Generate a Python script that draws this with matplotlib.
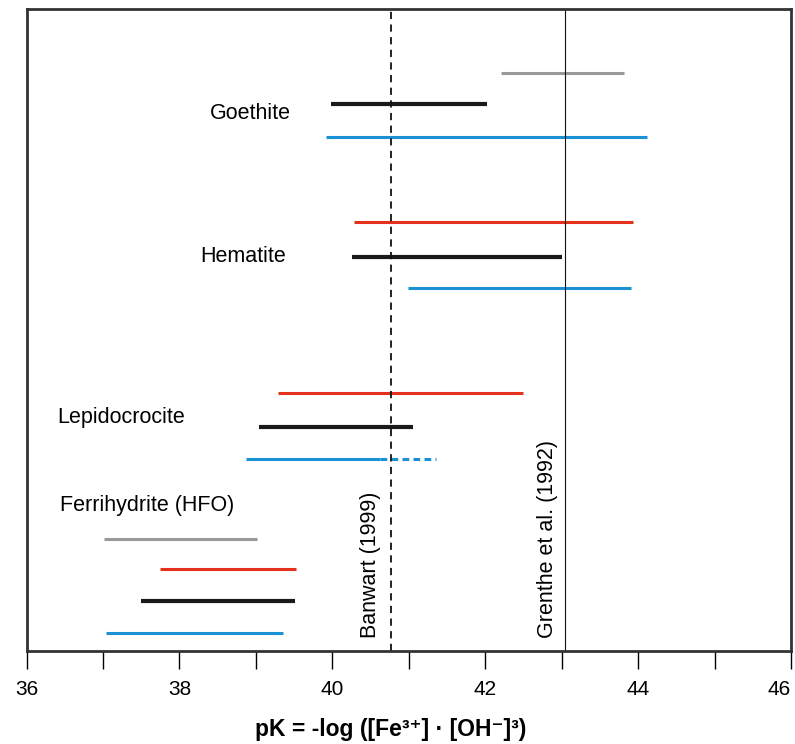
import matplotlib
matplotlib.use("Agg")
import matplotlib.pyplot as plt

plt.rcParams['font.family'] = ['Liberation Sans', 'DejaVu Sans']

# --- data: pK ranges for each mineral (start, end) ---
minerals = ['Goethite', 'Hematite', 'Lepidocrocite', 'Ferrihydrite (HFO)']
label_pos = [(38.40, 16.73), (38.27, 12.30), (36.40, 7.26), (36.44, 4.52)]

range_start = [42.21, 39.98, 39.92,
               40.29, 40.26, 40.99,
               39.29, 39.04, 38.87,
               37.02, 37.75, 37.50, 37.04]
range_end = [43.81, 42.02, 44.12,
             43.93, 43.00, 43.91,
             42.49, 41.05, 40.63,
             39.02, 39.52, 39.51, 39.35]
row_y = [18.0, 17.04, 16.01,
         13.36, 12.27, 11.31,
         8.04, 6.98, 5.98,
         3.49, 2.55, 1.56, 0.56]
row_kind = ['gray', 'black', 'blue',
            'red', 'black', 'blue',
            'red', 'black', 'blue',
            'gray', 'red', 'black', 'blue']

# uncertain extension of lepidocrocite blue range
ext_start, ext_end, ext_y = 40.63, 41.36, 5.98

ref_values = [40.77, 43.05]
ref_labels = ['Banwart (1999)', 'Grenthe et al. (1992)']
ref_text_x = [40.50, 42.82]

tick_vals = list(range(36, 47))
tick_labels = [str(v) if v % 2 == 0 else '' for v in tick_vals]

colors = {'gray': '#999999', 'black': '#1a1a1a', 'blue': '#1a90d5', 'red': '#e5311c'}
widths = {'gray': 2.2, 'black': 3.0, 'blue': 2.2, 'red': 2.2}

# --- plot ---
fig = plt.figure(figsize=(7.95, 7.44), dpi=100)
ax = fig.add_axes([26.5 / 795, 1 - 651 / 744, (791 - 26.5) / 795, (651 - 9) / 744])

for x0, x1, y, k in zip(range_start, range_end, row_y, row_kind):
    ax.plot([x0, x1], [y, y], color=colors[k], lw=widths[k], solid_capstyle='butt')
ax.plot([ext_start, ext_end], [ext_y, ext_y], color=colors['blue'], lw=2.2,
        linestyle=(0, (2.2, 1.4)))

ax.axvline(ref_values[0], color='#111111', lw=1.3, linestyle=(0, (4, 3)))
ax.axvline(ref_values[1], color='#111111', lw=0.8)
for xt, lab in zip(ref_text_x, ref_labels):
    ax.text(xt, 0.4, lab, rotation=90, ha='center', va='bottom', fontsize=15.5)

for name, (lx, ly) in zip(minerals, label_pos):
    ax.text(lx, ly, name, ha='left', va='center', fontsize=15.5)

ax.set_xlim(36, 46)
ax.set_ylim(0, 20)
ax.set_yticks([])
ax.set_xticks(tick_vals)
ax.set_xticklabels(tick_labels)
ax.tick_params(axis='x', direction='out', length=13, width=1, labelsize=15, pad=8)
ax.get_xticklabels()[-1].set_horizontalalignment('right')
for s in ax.spines.values():
    s.set_linewidth(2.0)
    s.set_color('#333333')

ax.set_xlabel('pK = -log ([Fe³⁺] · [OH⁻]³)', fontsize=16.5, fontweight='bold')
ax.xaxis.set_label_coords(0.477, -0.105)

fig.savefig('out.png', dpi=100)
